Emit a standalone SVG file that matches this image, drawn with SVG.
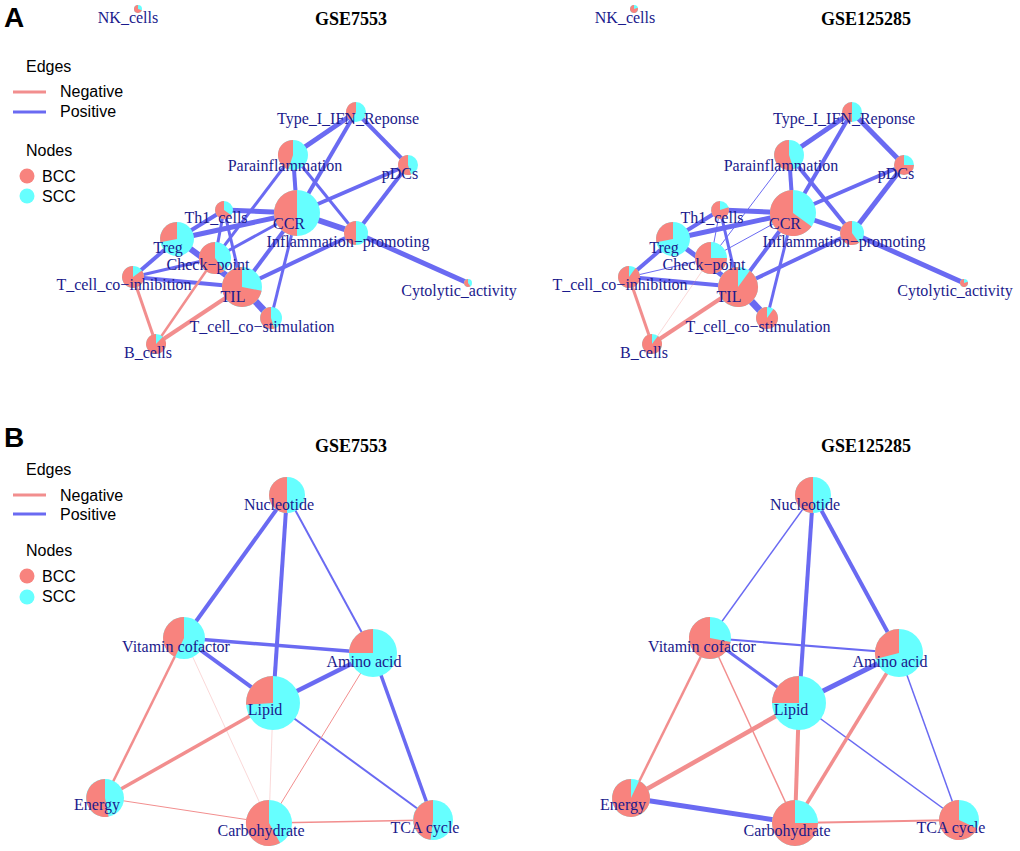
<svg xmlns="http://www.w3.org/2000/svg" width="1020" height="851" viewBox="0 0 1020 851">
<style>
.pos{stroke:#6A6AF2;fill:none}
.neg{stroke:#F28E8E;fill:none}
.faint{stroke-opacity:0.35}
.scc{fill:#66FFFF}
.bcc{fill:#F8837E}
.lbl{font-family:"Liberation Serif","Times New Roman",serif;font-size:16px;fill:#1A1A8C;text-anchor:middle}
.ttl{font-family:"Liberation Serif","Times New Roman",serif;font-size:18px;font-weight:bold;fill:#000;text-anchor:middle}
.leg{font-family:"Liberation Sans",Arial,sans-serif;font-size:16px;fill:#000}
.pl{font-family:"Liberation Sans",Arial,sans-serif;font-size:28px;font-weight:bold;fill:#000}
</style>
<rect width="1020" height="851" fill="#fff"/>

<!-- panel letters and titles -->
<text class="pl" x="4" y="27">A</text>
<text class="pl" x="4" y="447">B</text>
<text class="ttl" x="351" y="25">GSE7553</text>
<text class="ttl" x="866" y="25">GSE125285</text>
<text class="ttl" x="351" y="452">GSE7553</text>
<text class="ttl" x="866" y="452">GSE125285</text>

<!-- legends -->
<g id="legendA">
<text class="leg" x="26" y="72">Edges</text>
<line class="neg" x1="13" y1="92" x2="46" y2="92" stroke-width="3"/>
<text class="leg" x="60" y="97">Negative</text>
<line class="pos" x1="13" y1="112" x2="46" y2="112" stroke-width="3"/>
<text class="leg" x="60" y="117">Positive</text>
<text class="leg" x="26" y="156">Nodes</text>
<circle class="bcc" cx="27" cy="176" r="7.5"/>
<text class="leg" x="42" y="182">BCC</text>
<circle class="scc" cx="27" cy="196" r="7.5"/>
<text class="leg" x="42" y="202">SCC</text>
</g>
<g id="legendB">
<text class="leg" x="26" y="475">Edges</text>
<line class="neg" x1="13" y1="495" x2="46" y2="495" stroke-width="3"/>
<text class="leg" x="60" y="501">Negative</text>
<line class="pos" x1="13" y1="514" x2="46" y2="514" stroke-width="3"/>
<text class="leg" x="60" y="520">Positive</text>
<text class="leg" x="26" y="556">Nodes</text>
<circle class="bcc" cx="27" cy="576" r="7.5"/>
<text class="leg" x="42" y="582">BCC</text>
<circle class="scc" cx="27" cy="597" r="7.5"/>
<text class="leg" x="42" y="602">SCC</text>
</g>

<!-- connectors -->
<g id="connectors">
<!-- A left -->
<line class="pos" x1="356" y1="112" x2="293" y2="155" stroke-width="5"/>
<line class="pos" x1="356" y1="112" x2="408" y2="165" stroke-width="4"/>
<line class="pos" x1="356" y1="112" x2="297" y2="213" stroke-width="4"/>
<line class="pos" x1="293" y1="155" x2="297" y2="213" stroke-width="4"/>
<line class="pos" x1="293" y1="155" x2="356" y2="233" stroke-width="3"/>
<line class="pos" x1="293" y1="155" x2="215" y2="258" stroke-width="3"/>
<line class="pos" x1="408" y1="165" x2="297" y2="213" stroke-width="4"/>
<line class="pos" x1="408" y1="165" x2="356" y2="233" stroke-width="4"/>
<line class="pos" x1="297" y1="213" x2="356" y2="233" stroke-width="6"/>
<line class="pos" x1="356" y1="233" x2="468" y2="283" stroke-width="5"/>
<line class="pos" x1="356" y1="233" x2="242" y2="287" stroke-width="4"/>
<line class="pos" x1="297" y1="213" x2="242" y2="287" stroke-width="4"/>
<line class="pos" x1="297" y1="213" x2="271" y2="318" stroke-width="3"/>
<line class="pos" x1="224" y1="210" x2="297" y2="213" stroke-width="5"/>
<line class="pos" x1="177" y1="239" x2="297" y2="213" stroke-width="5"/>
<line class="pos" x1="177" y1="239" x2="224" y2="210" stroke-width="4"/>
<line class="pos" x1="177" y1="239" x2="242" y2="287" stroke-width="6"/>
<line class="pos" x1="215" y1="258" x2="297" y2="213" stroke-width="3"/>
<line class="pos" x1="224" y1="210" x2="242" y2="287" stroke-width="3"/>
<line class="pos" x1="224" y1="210" x2="215" y2="258" stroke-width="3"/>
<line class="pos" x1="133" y1="277" x2="177" y2="239" stroke-width="4"/>
<line class="pos" x1="133" y1="277" x2="242" y2="287" stroke-width="4"/>
<line class="pos" x1="133" y1="277" x2="215" y2="258" stroke-width="3"/>
<line class="pos" x1="242" y1="287" x2="271" y2="318" stroke-width="7"/>
<line class="neg" x1="156" y1="344" x2="133" y2="277" stroke-width="3"/>
<line class="neg" x1="156" y1="344" x2="242" y2="287" stroke-width="4"/>
<line class="neg" x1="156" y1="344" x2="215" y2="258" stroke-width="2.5"/>
<!-- A right -->
<line class="pos" x1="852" y1="112" x2="789" y2="155" stroke-width="5"/>
<line class="pos" x1="852" y1="112" x2="904" y2="165" stroke-width="5"/>
<line class="pos" x1="852" y1="112" x2="793" y2="213" stroke-width="4"/>
<line class="pos" x1="789" y1="155" x2="793" y2="213" stroke-width="4"/>
<line class="pos" x1="789" y1="155" x2="852" y2="233" stroke-width="4"/>
<line class="pos" x1="789" y1="155" x2="711" y2="258" stroke-width="1"/>
<line class="pos" x1="904" y1="165" x2="793" y2="213" stroke-width="4"/>
<line class="pos" x1="904" y1="165" x2="852" y2="233" stroke-width="5"/>
<line class="pos" x1="793" y1="213" x2="852" y2="233" stroke-width="5"/>
<line class="pos" x1="852" y1="233" x2="964" y2="283" stroke-width="5"/>
<line class="pos" x1="852" y1="233" x2="738" y2="287" stroke-width="4"/>
<line class="pos" x1="793" y1="213" x2="738" y2="287" stroke-width="4"/>
<line class="pos" x1="793" y1="213" x2="767" y2="318" stroke-width="3"/>
<line class="pos" x1="720" y1="210" x2="793" y2="213" stroke-width="5"/>
<line class="pos" x1="673" y1="239" x2="793" y2="213" stroke-width="5"/>
<line class="pos" x1="673" y1="239" x2="720" y2="210" stroke-width="4"/>
<line class="pos" x1="673" y1="239" x2="738" y2="287" stroke-width="5"/>
<line class="pos" x1="711" y1="258" x2="793" y2="213" stroke-width="1"/>
<line class="pos" x1="720" y1="210" x2="738" y2="287" stroke-width="3"/>
<line class="pos" x1="720" y1="210" x2="711" y2="258" stroke-width="1"/>
<line class="pos" x1="629" y1="277" x2="673" y2="239" stroke-width="4"/>
<line class="pos" x1="629" y1="277" x2="738" y2="287" stroke-width="4"/>
<line class="pos" x1="629" y1="277" x2="711" y2="258" stroke-width="1"/>
<line class="pos" x1="738" y1="287" x2="767" y2="318" stroke-width="7"/>
<line class="neg" x1="652" y1="344" x2="629" y2="277" stroke-width="3"/>
<line class="neg" x1="652" y1="344" x2="738" y2="287" stroke-width="4"/>
<line class="neg faint" x1="652" y1="344" x2="711" y2="258" stroke-width="1"/>
<!-- B left -->
<line class="pos" x1="287" y1="495" x2="184" y2="638" stroke-width="4"/>
<line class="pos" x1="287" y1="495" x2="273" y2="703" stroke-width="4"/>
<line class="pos" x1="287" y1="495" x2="373" y2="653" stroke-width="2"/>
<line class="pos" x1="184" y1="638" x2="373" y2="653" stroke-width="3.5"/>
<line class="pos" x1="184" y1="638" x2="273" y2="703" stroke-width="4"/>
<line class="pos" x1="373" y1="653" x2="273" y2="703" stroke-width="4.5"/>
<line class="pos" x1="373" y1="653" x2="433" y2="820" stroke-width="3.5"/>
<line class="pos" x1="273" y1="703" x2="433" y2="820" stroke-width="2"/>
<line class="neg" x1="184" y1="638" x2="105" y2="798" stroke-width="2.5"/>
<line class="neg faint" x1="184" y1="638" x2="269" y2="823" stroke-width="1"/>
<line class="neg" x1="273" y1="703" x2="105" y2="798" stroke-width="3.5"/>
<line class="neg faint" x1="273" y1="703" x2="269" y2="823" stroke-width="1"/>
<line class="neg" x1="373" y1="653" x2="269" y2="823" stroke-width="1"/>
<line class="neg" x1="105" y1="798" x2="269" y2="823" stroke-width="1"/>
<line class="neg" x1="269" y1="823" x2="433" y2="820" stroke-width="1.5"/>
<!-- B right -->
<line class="pos" x1="813" y1="495" x2="710" y2="638" stroke-width="1.5"/>
<line class="pos" x1="813" y1="495" x2="799" y2="703" stroke-width="4"/>
<line class="pos" x1="813" y1="495" x2="899" y2="653" stroke-width="4"/>
<line class="pos" x1="710" y1="638" x2="899" y2="653" stroke-width="2"/>
<line class="pos" x1="710" y1="638" x2="799" y2="703" stroke-width="3"/>
<line class="pos" x1="899" y1="653" x2="799" y2="703" stroke-width="5"/>
<line class="pos" x1="899" y1="653" x2="959" y2="820" stroke-width="1.5"/>
<line class="pos" x1="799" y1="703" x2="959" y2="820" stroke-width="1.5"/>
<line class="pos" x1="631" y1="798" x2="795" y2="823" stroke-width="5"/>
<line class="neg" x1="710" y1="638" x2="631" y2="798" stroke-width="2.5"/>
<line class="neg" x1="710" y1="638" x2="795" y2="823" stroke-width="1.5"/>
<line class="neg" x1="799" y1="703" x2="631" y2="798" stroke-width="4.5"/>
<line class="neg" x1="799" y1="703" x2="795" y2="823" stroke-width="4"/>
<line class="neg" x1="899" y1="653" x2="795" y2="823" stroke-width="3.5"/>
<line class="neg" x1="795" y1="823" x2="959" y2="820" stroke-width="2"/>
</g>

<!-- A left nodes -->
<g id="A1_CCR"><circle class="scc" cx="297" cy="213" r="23"/><path class="bcc" d="M297 213 L297 190 A23 23 0 1 0 297 236 Z"/><text class="lbl" x="289" y="229">CCR</text></g>
<g id="A1_TIL"><circle class="scc" cx="242" cy="287" r="20"/><path class="bcc" d="M242 287 L242 267 A20 20 0 1 0 261.6 290.7 Z"/><text class="lbl" x="233" y="302">TIL</text></g>
<g id="A1_NK_cells"><circle class="scc" cx="138" cy="9" r="4"/><path class="bcc" d="M138 9 L138 5 A4 4 0 1 0 141.8 10.2 Z"/><text class="lbl" x="128" y="23">NK_cells</text></g>
<g id="A1_Type_I_IFN_Reponse"><circle class="scc" cx="356" cy="112" r="10"/><path class="bcc" d="M356 112 L356 102 A10 10 0 0 0 351.2 120.8 Z"/><text class="lbl" x="348" y="124">Type_I_IFN_Reponse</text></g>
<g id="A1_Parainflammation"><circle class="scc" cx="293" cy="155" r="15"/><path class="bcc" d="M293 155 L293 140 A15 15 0 0 0 288.4 169.3 Z"/><text class="lbl" x="285" y="171">Parainflammation</text></g>
<g id="A1_pDCs"><circle class="scc" cx="408" cy="165" r="10"/><path class="bcc" d="M408 165 L408 155 A10 10 0 1 0 411.1 174.5 Z"/><text class="lbl" x="400" y="179">pDCs</text></g>
<g id="A1_Inflammation_promoting"><circle class="scc" cx="356" cy="233" r="12"/><path class="bcc" d="M356 233 L356 221 A12 12 0 1 0 356 245 Z"/><text class="lbl" x="348" y="247">Inflammation−promoting</text></g>
<g id="A1_Cytolytic_activity"><circle class="scc" cx="468" cy="283" r="4"/><path class="bcc" d="M468 283 L468 279 A4 4 0 1 0 470.4 286.2 Z"/><text class="lbl" x="459" y="296">Cytolytic_activity</text></g>
<g id="A1_T_cell_co_stimulation"><circle class="scc" cx="271" cy="318" r="11"/><path class="bcc" d="M271 318 L271 307 A11 11 0 1 0 274.4 328.5 Z"/><text class="lbl" x="262" y="332">T_cell_co−stimulation</text></g>
<g id="A1_Treg"><circle class="scc" cx="177" cy="239" r="17"/><path class="bcc" d="M177 239 L177 222 A17 17 0 0 0 160.3 242.2 Z"/><text class="lbl" x="168" y="253">Treg</text></g>
<g id="A1_Th1_cells"><circle class="scc" cx="224" cy="210" r="9"/><path class="bcc" d="M224 210 L224 201 A9 9 0 1 0 231.3 215.3 Z"/><text class="lbl" x="216" y="223">Th1_cells</text></g>
<g id="A1_Check_point"><circle class="scc" cx="215" cy="258" r="16"/><path class="bcc" d="M215 258 L215 242 A16 16 0 1 0 224.4 270.9 Z"/><text class="lbl" x="208" y="270">Check−point</text></g>
<g id="A1_T_cell_co_inhibition"><circle class="scc" cx="133" cy="277" r="11"/><path class="bcc" d="M133 277 L133 266 A11 11 0 1 0 141.9 270.5 Z"/><text class="lbl" x="124" y="290">T_cell_co−inhibition</text></g>
<g id="A1_B_cells"><circle class="scc" cx="156" cy="344" r="10"/><path class="bcc" d="M156 344 L156 334 A10 10 0 1 0 162.9 336.7 Z"/><text class="lbl" x="148" y="358">B_cells</text></g>

<!-- A right nodes -->
<g id="A2_CCR"><circle class="scc" cx="793" cy="213" r="23"/><path class="bcc" d="M793 213 L793 190 A23 23 0 1 0 811.6 226.5 Z"/><text class="lbl" x="785" y="229">CCR</text></g>
<g id="A2_TIL"><circle class="scc" cx="738" cy="287" r="20"/><path class="bcc" d="M738 287 L738 267 A20 20 0 1 0 749.8 270.8 Z"/><text class="lbl" x="729" y="302">TIL</text></g>
<g id="A2_NK_cells"><circle class="scc" cx="634" cy="9" r="4"/><path class="bcc" d="M634 9 L634 5 A4 4 0 1 0 637.8 7.8 Z"/><text class="lbl" x="625" y="23">NK_cells</text></g>
<g id="A2_Type_I_IFN_Reponse"><circle class="scc" cx="852" cy="112" r="10"/><path class="bcc" d="M852 112 L852 102 A10 10 0 1 0 852 122 Z"/><text class="lbl" x="844" y="124">Type_I_IFN_Reponse</text></g>
<g id="A2_Parainflammation"><circle class="scc" cx="789" cy="155" r="15"/><path class="bcc" d="M789 155 L789 140 A15 15 0 1 0 793.6 169.3 Z"/><text class="lbl" x="781" y="171">Parainflammation</text></g>
<g id="A2_pDCs"><circle class="scc" cx="904" cy="165" r="10"/><path class="bcc" d="M904 165 L904 155 A10 10 0 1 0 914 165 Z"/><text class="lbl" x="896" y="179">pDCs</text></g>
<g id="A2_Inflammation_promoting"><circle class="scc" cx="852" cy="233" r="12"/><path class="bcc" d="M852 233 L852 221 A12 12 0 1 0 859.1 242.7 Z"/><text class="lbl" x="844" y="247">Inflammation−promoting</text></g>
<g id="A2_Cytolytic_activity"><circle class="scc" cx="964" cy="283" r="4"/><path class="bcc" d="M964 283 L964 279 A4 4 0 1 0 967.8 281.8 Z"/><text class="lbl" x="955" y="296">Cytolytic_activity</text></g>
<g id="A2_T_cell_co_stimulation"><circle class="scc" cx="767" cy="318" r="11"/><path class="bcc" d="M767 318 L767 307 A11 11 0 1 0 773.5 309.1 Z"/><text class="lbl" x="758" y="332">T_cell_co−stimulation</text></g>
<g id="A2_Treg"><circle class="scc" cx="673" cy="239" r="17"/><path class="bcc" d="M673 239 L673 222 A17 17 0 0 0 656.3 242.2 Z"/><text class="lbl" x="664" y="253">Treg</text></g>
<g id="A2_Th1_cells"><circle class="scc" cx="720" cy="210" r="9"/><path class="bcc" d="M720 210 L720 201 A9 9 0 1 0 728.6 207.2 Z"/><text class="lbl" x="712" y="223">Th1_cells</text></g>
<g id="A2_Check_point"><circle class="scc" cx="711" cy="258" r="16"/><path class="bcc" d="M711 258 L711 242 A16 16 0 1 0 727 258 Z"/><text class="lbl" x="704" y="270">Check−point</text></g>
<g id="A2_T_cell_co_inhibition"><circle class="scc" cx="629" cy="277" r="11"/><path class="bcc" d="M629 277 L629 266 A11 11 0 1 0 635.5 268.1 Z"/><text class="lbl" x="620" y="290">T_cell_co−inhibition</text></g>
<g id="A2_B_cells"><circle class="scc" cx="652" cy="344" r="10"/><path class="bcc" d="M652 344 L652 334 A10 10 0 1 0 657.9 335.9 Z"/><text class="lbl" x="644" y="358">B_cells</text></g>

<!-- B left nodes -->
<g id="B1_Nucleotide"><circle class="scc" cx="287" cy="495" r="18"/><path class="bcc" d="M287 495 L287 477 A18 18 0 1 0 287 513 Z"/><text class="lbl" x="279" y="510">Nucleotide</text></g>
<g id="B1_Vitamin_cofactor"><circle class="scc" cx="184" cy="638" r="21"/><path class="bcc" d="M184 638 L184 617 A21 21 0 0 0 175.1 657 Z"/><text class="lbl" x="176" y="652">Vitamin cofactor</text></g>
<g id="B1_Amino_acid"><circle class="scc" cx="373" cy="653" r="24"/><path class="bcc" d="M373 653 L373 629 A24 24 0 0 0 349 653 Z"/><text class="lbl" x="364" y="667">Amino acid</text></g>
<g id="B1_Lipid"><circle class="scc" cx="273" cy="703" r="27"/><path class="bcc" d="M273 703 L273 676 A27 27 0 0 0 246.1 704.7 Z"/><text class="lbl" x="265" y="715">Lipid</text></g>
<g id="B1_Energy"><circle class="scc" cx="105" cy="798" r="19"/><path class="bcc" d="M105 798 L105 779 A19 19 0 1 0 108.6 816.7 Z"/><text class="lbl" x="97" y="810">Energy</text></g>
<g id="B1_Carbohydrate"><circle class="scc" cx="269" cy="823" r="23"/><path class="bcc" d="M269 823 L269 800 A23 23 0 1 0 280.1 843.1 Z"/><text class="lbl" x="261" y="836">Carbohydrate</text></g>
<g id="B1_TCA_cycle"><circle class="scc" cx="433" cy="820" r="20"/><path class="bcc" d="M433 820 L433 800 A20 20 0 0 0 430.5 839.8 Z"/><text class="lbl" x="425" y="833">TCA cycle</text></g>

<!-- B right nodes -->
<g id="B2_Nucleotide"><circle class="scc" cx="813" cy="495" r="18"/><path class="bcc" d="M813 495 L813 477 A18 18 0 1 0 813 513 Z"/><text class="lbl" x="805" y="510">Nucleotide</text></g>
<g id="B2_Vitamin_cofactor"><circle class="scc" cx="710" cy="638" r="21"/><path class="bcc" d="M710 638 L710 617 A21 21 0 1 0 730.6 641.9 Z"/><text class="lbl" x="702" y="652">Vitamin cofactor</text></g>
<g id="B2_Amino_acid"><circle class="scc" cx="899" cy="653" r="24"/><path class="bcc" d="M899 653 L899 629 A24 24 0 0 0 875.7 659 Z"/><text class="lbl" x="890" y="667">Amino acid</text></g>
<g id="B2_Lipid"><circle class="scc" cx="799" cy="703" r="27"/><path class="bcc" d="M799 703 L799 676 A27 27 0 0 0 772 703 Z"/><text class="lbl" x="791" y="715">Lipid</text></g>
<g id="B2_Energy"><circle class="scc" cx="631" cy="798" r="19"/><path class="bcc" d="M631 798 L631 779 A19 19 0 1 0 639.1 780.8 Z"/><text class="lbl" x="623" y="810">Energy</text></g>
<g id="B2_Carbohydrate"><circle class="scc" cx="795" cy="823" r="23"/><path class="bcc" d="M795 823 L795 800 A23 23 0 1 0 818 823 Z"/><text class="lbl" x="787" y="836">Carbohydrate</text></g>
<g id="B2_TCA_cycle"><circle class="scc" cx="959" cy="820" r="20"/><path class="bcc" d="M959 820 L959 800 A20 20 0 1 0 977.1 828.5 Z"/><text class="lbl" x="951" y="833">TCA cycle</text></g>
</svg>
